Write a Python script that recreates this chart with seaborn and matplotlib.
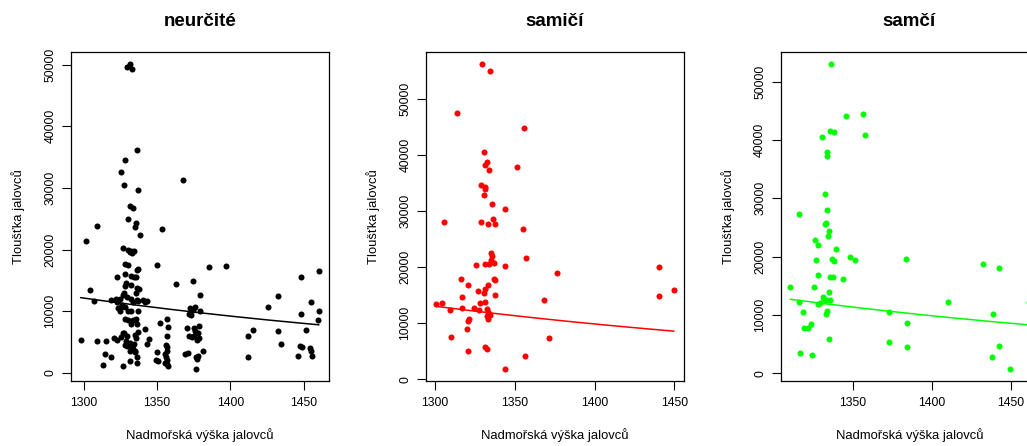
import numpy as np
import pandas as pd
import matplotlib
matplotlib.use("Agg")
import matplotlib.pyplot as plt
from matplotlib.ticker import MultipleLocator
import seaborn as sns

# ---------------- data ----------------
groups = ["neurčité", "samičí", "samčí"]
colors = ["#000000", "#FF0000", "#00FF00"]

x_neurcite = [1329.3, 1331.4, 1332.9, 1336.3, 1328.4, 1325.7, 1327.3, 1337.0, 1367.5, 1331.6,
              1333.4, 1330.0, 1308.9, 1335.9, 1335.0, 1353.6, 1301.8, 1338.4, 1326.6, 1330.2,
              1331.6, 1333.2, 1334.3, 1332.0, 1328.4, 1330.0, 1337.3, 1336.6, 1349.8, 1385.7,
              1396.8, 1328.4, 1332.0, 1334.1, 1335.7, 1322.7, 1363.2, 1374.3, 1304.1, 1328.2,
              1332.0, 1336.6, 1337.7, 1327.1, 1329.3, 1332.2, 1335.9, 1432.5, 1307.0, 1318.4,
              1322.3, 1323.0, 1336.1, 1340.4, 1342.0, 1343.4, 1333.4, 1337.3, 1323.4, 1325.7,
              1327.9, 1379.3, 1372.7, 1374.5, 1375.7, 1371.6, 1373.4, 1379.1, 1330.2, 1332.0,
              1337.0, 1425.6, 1447.9, 1460.4, 1459.7, 1327.9, 1330.2, 1333.8, 1335.4, 1357.1,
              1351.8, 1357.3, 1336.6, 1332.2, 1342.0, 1370.2, 1375.2, 1378.6, 1375.7, 1377.7,
              1415.4, 1432.5, 1451.8, 1336.8, 1334.8, 1335.7, 1327.7, 1329.5, 1357.1, 1371.6,
              1375.5, 1378.9, 1377.1, 1373.9, 1297.8, 1308.7, 1315.0, 1320.7, 1323.0, 1325.3,
              1344.3, 1343.4, 1329.1, 1331.4, 1333.4, 1329.8, 1332.9, 1331.2, 1333.6, 1327.9,
              1334.3, 1334.8, 1412.3, 1434.5, 1447.7, 1449.1, 1454.1, 1455.2, 1455.4, 1446.1,
              1412.3, 1355.9, 1356.6, 1356.8, 1355.4, 1356.4, 1357.1, 1356.8, 1357.3, 1355.7,
              1349.8, 1349.6, 1350.7, 1369.1, 1371.4, 1377.7, 1376.4, 1377.3, 1376.4, 1381.1,
              1314.5, 1318.4, 1313.4, 1326.6, 1331.4, 1336.3, 1336.3, 1334.8, 1447.9, 1460.4,
              1455.2, 1325.0, 1326.4, 1324.5, 1326.8, 1328.6, 1326.8]
y_neurcite = [49650, 50090, 49380, 36150, 34530, 32630, 30470, 29660, 31290, 27120,
              26800, 24960, 23830, 24360, 23670, 23340, 21450, 22300, 20260, 19990,
              19660, 19450, 19710, 19820, 17670, 17510, 16860, 16630, 17510, 17180,
              17280, 15980, 15770, 15560, 15560, 15560, 14360, 14850, 13500, 14150,
              14310, 13780, 13550, 12970, 12260, 12040, 12900, 12480, 11720, 11830,
              11930, 11440, 11830, 11770, 11440, 11610, 11560, 11720, 10540, 10750,
              10630, 12580, 10540, 10260, 10750, 9560, 9450, 9990, 10100, 10050,
              10100, 10750, 9610, 9990, 8590, 8750, 8640, 8590, 8690, 8800,
              8100, 7460, 7990, 7880, 7130, 7230, 7230, 7670, 6740, 6530,
              7020, 6860, 7020, 6580, 6210, 5720, 6420, 6050, 6000, 5930,
              5930, 5670, 5350, 5770, 5350, 5190, 5240, 5670, 5350, 5770,
              5560, 4700, 5240, 4860, 4540, 4380, 4100, 3610, 3890, 4590,
              4700, 3610, 5930, 4700, 4380, 4150, 4100, 3500, 2750, 2750,
              2590, 4470, 4260, 3570, 3080, 2530, 2110, 1460, 1070, 1670,
              3450, 2160, 1880, 3020, 3180, 2750, 2590, 2200, 650, 3570,
              3020, 2530, 1230, 1070, 1990, 2530, 1620, 3340, 15500, 16470,
              11440, 12040, 10960, 10100, 12690, 14520, 6480]

x_samici = [1329.3, 1334.3, 1313.6, 1355.6, 1330.9, 1332.8, 1331.5, 1333.7, 1351.6, 1329.0,
            1331.3, 1331.5, 1330.7, 1335.5, 1343.5, 1305.8, 1329.0, 1336.2, 1337.6, 1333.4,
            1355.0, 1335.3, 1335.7, 1334.0, 1336.6, 1331.5, 1325.7, 1343.5, 1334.7, 1315.9,
            1337.0, 1337.4, 1320.3, 1333.2, 1331.3, 1326.8, 1330.5, 1337.4, 1317.1, 1331.3,
            1328.2, 1300.2, 1304.0, 1324.3, 1327.4, 1317.1, 1309.2, 1332.6, 1333.2, 1334.3,
            1332.2, 1332.9, 1321.1, 1320.7, 1320.1, 1310.0, 1331.5, 1332.6, 1320.3, 1356.2,
            1343.5, 1357.2, 1376.7, 1368.3, 1371.7, 1440.4, 1440.4, 1449.8]
y_samici = [56150, 54970, 47500, 44710, 40560, 38710, 38180, 37360, 37820, 34690,
            34210, 33850, 32910, 31310, 30300, 28110, 27980, 28570, 27750, 27680,
            26740, 22590, 21990, 20640, 20740, 20510, 20460, 20280, 21280, 17970,
            17970, 17670, 16830, 16830, 16190, 15760, 15410, 15050, 14700, 13750,
            13630, 13450, 13630, 12740, 12380, 12740, 12380, 12560, 11970, 11440,
            11260, 10780, 10780, 10370, 9070, 7580, 5800, 5440, 4980, 4200,
            1890, 21580, 18910, 14110, 7290, 20100, 14940, 15940]

x_samci = [1336.6, 1345.5, 1356.8, 1357.6, 1335.5, 1338.3, 1330.3, 1333.7, 1333.7, 1332.6,
           1333.9, 1316.2, 1332.2, 1333.0, 1334.9, 1334.1, 1326.4, 1328.3, 1339.2, 1348.3,
           1351.7, 1337.1, 1338.1, 1326.6, 1328.2, 1335.8, 1337.3, 1343.8, 1310.5, 1325.8,
           1335.2, 1331.1, 1332.0, 1333.0, 1335.6, 1328.2, 1329.6, 1316.2, 1318.8, 1333.9,
           1333.0, 1323.4, 1319.4, 1321.5, 1335.2, 1316.4, 1324.5, 1383.9, 1432.8, 1442.8,
           1410.5, 1461.5, 1373.1, 1438.7, 1384.2, 1373.1, 1384.2, 1442.8, 1438.2, 1449.4]
y_samci = [52980, 44040, 44430, 40910, 41600, 41420, 40450, 37890, 37200, 30660,
           27980, 27290, 25580, 25700, 24390, 23480, 22800, 22050, 21310, 20000,
           19480, 19650, 19210, 19380, 16920, 16580, 16580, 16180, 14820, 14870,
           13960, 13060, 12770, 12600, 12540, 11910, 12130, 12250, 10540, 10770,
           10150, 8550, 7810, 7810, 5880, 3490, 3140, 19550, 18750, 18060,
           12200, 12200, 10540, 10200, 8720, 5370, 4560, 4730, 2800, 800]

# fitted log-link model: value at 1300 m and slope (per m, log scale)
fit_at_1300 = [12130, 13040, 13090]
fit_slope = [-0.00276, -0.00278, -0.00280]

x_label = "Nadmořská výška jalovců"
y_label = "Tloušťka jalovců"

xs = [x_neurcite, x_samici, x_samci]
ys = [y_neurcite, y_samici, y_samci]

df = pd.concat([pd.DataFrame({"vyska": x, "tloustka": y, "pohlavi": g})
                for x, y, g in zip(xs, ys, groups)], ignore_index=True)

# ---------------- figure ----------------
sns.set_style("ticks")
plt.rcParams["font.family"] = ["Liberation Sans", "DejaVu Sans"]
plt.rcParams["text.color"] = "black"
plt.rcParams["axes.labelcolor"] = "black"

W_px, H_px = 1027, 446
fig = plt.figure(figsize=(W_px / 100, H_px / 100), dpi=100)

lefts = [71, 426, 780.7]
ax_w, top, bottom = 257.5, 52, 381
ax_h = bottom - top

for i, (g, c) in enumerate(zip(groups, colors)):
    ax = fig.add_axes([lefts[i] / W_px, (H_px - bottom) / H_px,
                       ax_w / W_px, ax_h / H_px])
    sub = df[df["pohlavi"] == g]
    sns.scatterplot(data=sub, x="vyska", y="tloustka", color=c, s=19,
                    linewidth=0, ax=ax, zorder=3)
    grid = np.linspace(sub["vyska"].min(), sub["vyska"].max(), 200)
    fit = fit_at_1300[i] * np.exp(fit_slope[i] * (grid - 1300.0))
    sns.lineplot(x=grid, y=fit, color=c, lw=1.1, ax=ax, zorder=4)

    xmin, xmax = sub["vyska"].min(), sub["vyska"].max()
    ymin, ymax = sub["tloustka"].min(), sub["tloustka"].max()
    rx, ry = xmax - xmin, ymax - ymin
    ax.set_xlim(xmin - 0.04 * rx, xmax + 0.04 * rx)
    ax.set_ylim(ymin - 0.04 * ry, ymax + 0.04 * ry)
    ax.xaxis.set_major_locator(MultipleLocator(50))
    ax.yaxis.set_major_locator(MultipleLocator(10000))

    for sp in ax.spines.values():
        sp.set_visible(True)
        sp.set_color("black")
        sp.set_linewidth(0.9)
    ax.tick_params(axis="both", direction="out", length=6.5, width=0.8,
                   color="black", labelsize=8.8, labelcolor="black")
    ax.tick_params(axis="x", pad=5)
    ax.tick_params(axis="y", pad=4)
    for lab in ax.get_yticklabels():
        lab.set_rotation(90)
        lab.set_va("center")

    ax.text(0.5, (bottom - 21) / ax_h, g, transform=ax.transAxes, color="black",
            ha="center", va="center", fontsize=13.5, fontweight="bold")

    ax.set_xlabel(x_label, fontsize=9.4, color="black")
    ax.set_ylabel(y_label, fontsize=9.4, color="black")
    ax.xaxis.label.set_va("center")
    ax.yaxis.label.set_va("center")
    ax.xaxis.set_label_coords(0.5, (bottom - 435) / ax_h)
    ax.yaxis.set_label_coords(-53 / ax_w, 0.5)

fig.savefig("out.png", dpi=100)
